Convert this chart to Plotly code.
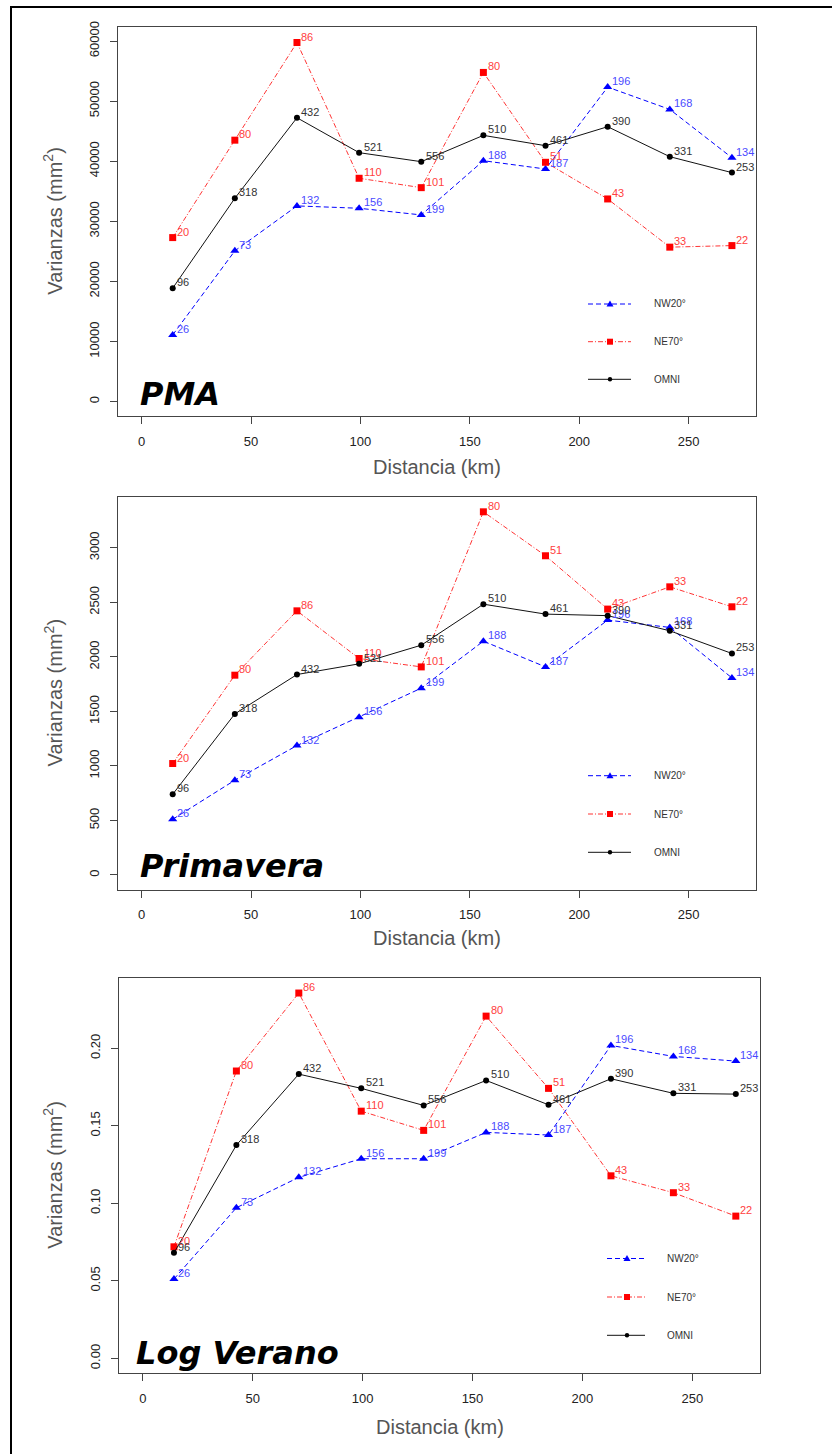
import plotly.graph_objects as go

W, H = 832, 1454

# ---------------- data ----------------
lags = [14.2, 42.6, 71.0, 99.4, 127.8, 156.2, 184.6, 213.0, 241.4, 269.8]

nw_pairs = [26, 73, 132, 156, 199, 188, 187, 196, 168, 134]
ne_pairs = [20, 80, 86, 110, 101, 80, 51, 43, 33, 22]
omni_pairs = [96, 318, 432, 521, 556, 510, 461, 390, 331, 253]

pma_nw = [11100, 25080, 32560, 32170, 31060, 40080, 38700, 52330, 48620, 40580]
pma_ne = [27290, 43500, 59750, 37160, 35600, 54770, 39820, 33720, 25700, 25960]
pma_omni = [18870, 33830, 47230, 41420, 39920, 44300, 42580, 45740, 40750, 38100]

prim_nw = [511, 869, 1187, 1447, 1713, 2144, 1908, 2337, 2270, 1807]
prim_ne = [1022, 1832, 2422, 1985, 1908, 3330, 2927, 2438, 2642, 2459]
prim_omni = [740, 1477, 1838, 1936, 2107, 2483, 2392, 2378, 2239, 2031]

verano_nw = [0.0512, 0.0972, 0.1168, 0.1288, 0.1288, 0.1458, 0.1441, 0.2019, 0.1948, 0.1918]
verano_ne = [0.0720, 0.1854, 0.2357, 0.1595, 0.1471, 0.2208, 0.1742, 0.1178, 0.1069, 0.0918]
verano_omni = [0.0681, 0.1376, 0.1834, 0.1742, 0.1632, 0.1793, 0.1636, 0.1804, 0.1710, 0.1705]

pma_ticks = [0, 10000, 20000, 30000, 40000, 50000, 60000]
prim_ticks = [0, 500, 1000, 1500, 2000, 2500, 3000]
verano_ticks = [0.0, 0.05, 0.10, 0.15, 0.20]
x_ticks = [0, 50, 100, 150, 200, 250]

series_names = ["NW20°", "NE70°", "OMNI"]
panel_titles = ["PMA", "Primavera", "Log Verano"]

# ---------------- styles / layout helpers ----------------
def px(x):
    return x / W

def py(y):
    return 1 - y / H

BLUE = "#0000FF"
RED = "rgba(255,0,0,0.8)"
BLACK = "#111111"
styles = [
    dict(color=BLUE, dash="5px,3px", symbol="triangle-up", msize=8, mcolor="#0000FF", tcolor="#4A4AFF"),
    dict(color=RED, dash="5px,2px,1px,2px", symbol="square", msize=7, mcolor="#FF0000", tcolor="#FF4040"),
    dict(color=BLACK, dash="solid", symbol="circle", msize=6, mcolor="#000000", tcolor="#333333"),
]

panels = [
    dict(data=[pma_nw, pma_ne, pma_omni], ticks=pma_ticks, tickfmt="d",
         xl=118, xr=756, top=27.3, bot=416, yr=[-2395, 62280],
         title_y=394, title_x=138, xtitle_y=467,
         leg_rows=[304, 341.7, 379.3], leg_x=[588, 631], leg_m=610, leg_t=652),
    dict(data=[prim_nw, prim_ne, prim_omni], ticks=prim_ticks, tickfmt="d",
         xl=118, xr=756, top=497.3, bot=889.5, yr=[-133, 3463],
         title_y=866, title_x=138, xtitle_y=938,
         leg_rows=[775.7, 814, 852.3], leg_x=[588, 631], leg_m=610, leg_t=652),
    dict(data=[verano_nw, verano_ne, verano_omni], ticks=verano_ticks, tickfmt=".2f",
         xl=119, xr=760, top=978.3, bot=1373, yr=[-0.0094, 0.2452],
         title_y=1352.5, title_x=134, xtitle_y=1426.5,
         leg_rows=[1258.5, 1297, 1335.3], leg_x=[607, 645], leg_m=627, leg_t=665),
]
pairs = [nw_pairs, ne_pairs, omni_pairs]

fig = go.Figure()
annotations = []
shapes = []

for i, p in enumerate(panels):
    ax = "" if i == 0 else str(i + 1)
    for s, (vals, st, pr) in enumerate(zip(p["data"], styles, pairs)):
        fig.add_trace(go.Scatter(
            x=lags, y=vals, mode="lines+markers",
            line=dict(color=st["color"], width=1, dash=st["dash"]),
            marker=dict(symbol=st["symbol"], size=st["msize"], color=st["mcolor"]),
            cliponaxis=False, showlegend=False,
            xaxis="x" + ax, yaxis="y" + ax,
        ))
        # number-of-pairs labels, anchored at each data point
        for xv, yv, n in zip(lags, vals, pr):
            annotations.append(dict(xref="x" + ax, yref="y" + ax, x=xv, y=yv,
                                    text=str(n), showarrow=False,
                                    xanchor="left", yanchor="middle", xshift=2.5, yshift=6,
                                    font=dict(family="Liberation Sans, Arial", size=11,
                                              color=st["tcolor"])))
    xdom = [px(p["xl"]), px(p["xr"])]
    ydom = [py(p["bot"]), py(p["top"])]
    common = dict(showgrid=False, zeroline=False, showline=True, mirror=True,
                  linecolor="#444444", linewidth=1, ticks="outside", ticklen=7,
                  tickcolor="#444444", tickwidth=1, automargin=False,
                  tickfont=dict(family="Liberation Sans, Arial", size=13, color="#222222"))
    fig.update_layout(**{
        "xaxis" + ax: dict(domain=xdom, range=[-10.8, 280.8], tickvals=x_ticks,
                           anchor="y" + ax, ticklabelstandoff=6, **common),
        "yaxis" + ax: dict(domain=ydom, range=p["yr"], tickvals=p["ticks"],
                           tickformat=p["tickfmt"], tickangle=-90,
                           anchor="x" + ax, ticklabelstandoff=6, **common),
    })
    # panel title
    annotations.append(dict(xref="paper", yref="paper", x=px(p["title_x"]), y=py(p["title_y"]),
                            xanchor="left", yanchor="middle", showarrow=False,
                            text="<b><i>" + panel_titles[i] + "</i></b>",
                            font=dict(family="DejaVu Sans", size=32, color="#000000")))
    # axis titles
    annotations.append(dict(xref="paper", yref="paper", x=px((p["xl"] + p["xr"]) / 2),
                            y=py(p["xtitle_y"]), xanchor="center", yanchor="middle",
                            showarrow=False, text="Distancia (km)",
                            font=dict(family="Liberation Sans, Arial", size=20, color="#555555")))
    annotations.append(dict(xref="paper", yref="paper", x=px(53),
                            y=py((p["top"] + p["bot"]) / 2), xanchor="center", yanchor="middle",
                            showarrow=False, textangle=-90, text="Varianzas (mm<sup>2</sup>)",
                            font=dict(family="Liberation Sans, Arial", size=20, color="#555555")))
    # legend
    for s, st in enumerate(styles):
        ry = p["leg_rows"][s]
        shapes.append(dict(type="line", xref="paper", yref="paper",
                           x0=px(p["leg_x"][0]), x1=px(p["leg_x"][1]), y0=py(ry), y1=py(ry),
                           line=dict(color=st["color"], width=1, dash=st["dash"])))
        mx = p["leg_m"]
        if st["symbol"] == "triangle-up":
            path = "M {} {} L {} {} L {} {} Z".format(px(mx - 3.5), py(ry + 2.5), px(mx + 3.5), py(ry + 2.5),
                                                    px(mx), py(ry - 3.5))
            shapes.append(dict(type="path", xref="paper", yref="paper", path=path,
                               fillcolor=st["mcolor"], line=dict(width=0)))
        elif st["symbol"] == "square":
            shapes.append(dict(type="rect", xref="paper", yref="paper",
                               x0=px(mx - 3), x1=px(mx + 3), y0=py(ry + 3), y1=py(ry - 3),
                               fillcolor=st["mcolor"], line=dict(width=0)))
        else:
            shapes.append(dict(type="circle", xref="paper", yref="paper",
                               x0=px(mx - 2.2), x1=px(mx + 2.2), y0=py(ry + 2.2), y1=py(ry - 2.2),
                               fillcolor=st["mcolor"], line=dict(width=0)))
        annotations.append(dict(xref="paper", yref="paper", x=px(p["leg_t"]), y=py(ry),
                                xanchor="left", yanchor="middle", showarrow=False,
                                text=series_names[s],
                                font=dict(family="Liberation Sans, Arial", size=10, color="#333333")))

# outer frame (left and top edges)
shapes.append(dict(type="line", xref="paper", yref="paper", x0=px(11), x1=px(11), y0=0, y1=py(6),
                   line=dict(color="#000000", width=2)))
shapes.append(dict(type="line", xref="paper", yref="paper", x0=px(10), x1=1, y0=py(7), y1=py(7),
                   line=dict(color="#000000", width=2)))

fig.update_layout(width=W, height=H, margin=dict(l=0, r=0, t=0, b=0, autoexpand=False),
                  paper_bgcolor="white", plot_bgcolor="white",
                  annotations=annotations, shapes=shapes, showlegend=False)

fig.write_html("out.html")
